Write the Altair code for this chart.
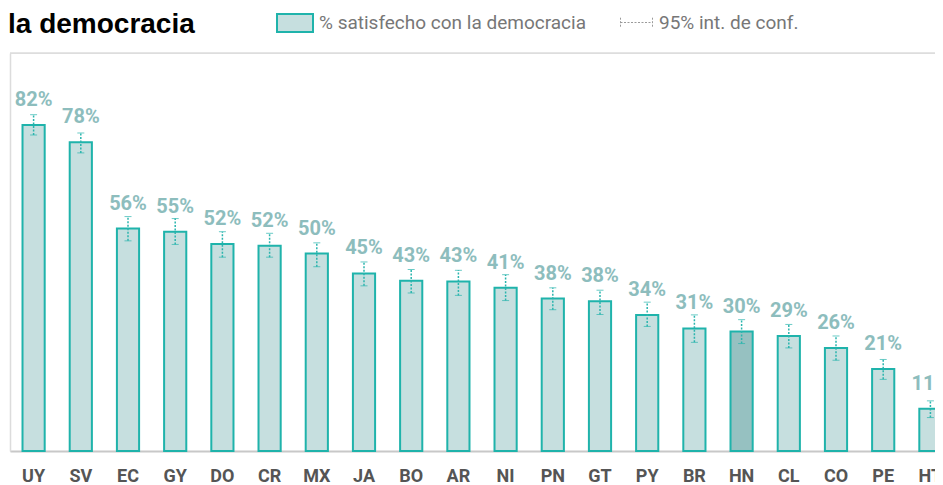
import altair as alt
import pandas as pd

paises = ["UY", "SV", "EC", "GY", "DO", "CR", "MX", "JA", "BO", "AR",
          "NI", "PN", "GT", "PY", "BR", "HN", "CL", "CO", "PE", "HT"]
valores = [81.9, 77.6, 55.9, 55.1, 52.0, 51.6, 49.6, 44.6, 42.8, 42.6,
           41.0, 38.3, 37.6, 34.2, 30.8, 30.0, 28.9, 25.9, 20.6, 10.6]
ic_inf = [79.4, 74.9, 52.8, 51.9, 48.7, 48.7, 46.3, 41.5, 39.7, 39.1,
          37.8, 35.5, 34.3, 31.3, 27.3, 27.0, 25.9, 22.8, 18.0, 8.4]
ic_sup = [84.5, 79.9, 58.9, 58.4, 55.1, 54.7, 52.3, 47.5, 45.6, 45.4,
          44.3, 41.0, 40.4, 37.4, 34.2, 33.0, 31.8, 28.9, 23.0, 12.6]
destacado = "HN"

SERIE = "% satisfecho con la democracia"
IC = "95% int. de conf."
TITULO = "la democracia"

df = pd.DataFrame({"pais": paises, "valor": valores, "inf": ic_inf, "sup": ic_sup})
df["serie"] = [("Destacado" if p == destacado else SERIE) for p in paises]
df["ic"] = IC

TEAL = "#1fb3ab"
FILL = "#c6dfdf"
FILL_HN = "#96c1c1"
LABEL = "#8dbdbd"
ERR = "#2bb5ae"

x = alt.X(
    "pais:N", sort=paises,
    scale=alt.Scale(range=[0, 944], paddingInner=0.53, paddingOuter=0.265),
    axis=alt.Axis(title=None, labelAngle=0, ticks=False, domainColor="#c8c8c8",
                  domainWidth=2, labelFont="Roboto", labelFontWeight="bold",
                  labelFontSize=18, labelColor="#555555", labelPadding=16),
)
y_scale = alt.Scale(domain=[0, 100])

base = alt.Chart(df)

bars = base.mark_bar(stroke=TEAL, strokeWidth=2).encode(
    x=x,
    y=alt.Y("valor:Q", scale=y_scale,
            axis=alt.Axis(title=None, labels=False, ticks=False, grid=False,
                          domainColor="#dcdcdc", domainWidth=1.5)),
    fill=alt.Fill("serie:N",
                  scale=alt.Scale(domain=[SERIE, "Destacado"], range=[FILL, FILL_HN]),
                  legend=alt.Legend(values=[SERIE], orient="none", legendX=266, legendY=-49,
                                    title=None, symbolType="M-1,-0.5H1V0.5H-1Z",
                                    symbolSize=1296, symbolStrokeColor=TEAL,
                                    symbolStrokeWidth=2, symbolOpacity=1,
                                    labelFont="Roboto", labelFontSize=19, labelLimit=0,
                                    labelColor="#777777", labelOffset=5)),
)

rules = base.mark_rule(strokeDash=[2, 1.5], strokeWidth=1.5, color=ERR).encode(
    x=x,
    y=alt.Y("inf:Q", scale=y_scale),
    y2="sup:Q",
    strokeDash=alt.StrokeDash("ic:N", scale=alt.Scale(domain=[IC], range=[[2, 1.5]]),
                              legend=alt.Legend(orient="none", legendX=610, legendY=-47,
                                                title=None,
                                                symbolType="M-1,0H1M-1,-0.3V0.3M1,-0.3V0.3",
                                                symbolSize=1024, symbolStrokeWidth=1,
                                                symbolStrokeColor="#9a9a9a",
                                                labelFont="Roboto", labelFontSize=19,
                                                labelLimit=0,
                                                labelColor="#777777", labelOffset=6)),
)

cap_lo = base.mark_tick(color=ERR, thickness=1, size=7).encode(
    x=x, y=alt.Y("inf:Q", scale=y_scale))
cap_hi = base.mark_tick(color=ERR, thickness=1, size=7).encode(
    x=x, y=alt.Y("sup:Q", scale=y_scale))

labels = base.transform_calculate(
    etiqueta="format(datum.valor, '.0f') + '%'"
).mark_text(font="Roboto", fontWeight="bold", fontSize=20, color=LABEL,
            dy=-19, baseline="alphabetic").encode(
    x=x, y=alt.Y("valor:Q", scale=y_scale), text="etiqueta:N")

frame_top = alt.Chart(pd.DataFrame({"f": [0]})).mark_rule(
    color="#dcdcdc", strokeWidth=1.5).encode(
    y=alt.value(0), x=alt.value(0), x2=alt.value(944))

titulo = alt.Chart(pd.DataFrame({"t": [TITULO]})).mark_text(
    font="Liberation Sans", fontSize=28, fontWeight="bold", color="#000000",
    align="left", baseline="alphabetic").encode(
    text="t:N", x=alt.value(-2), y=alt.value(-20))

chart = alt.layer(frame_top, bars, rules, cap_lo, cap_hi, labels, titulo).properties(
    width=925, height=398,
    autosize=alt.AutoSizeParams(type="none"),
    padding={"left": 2, "top": 45, "right": 0, "bottom": 34},
).configure_view(stroke=None).configure(background="white")

chart.save("out.html", embed_options={"renderer": "svg", "actions": False})
